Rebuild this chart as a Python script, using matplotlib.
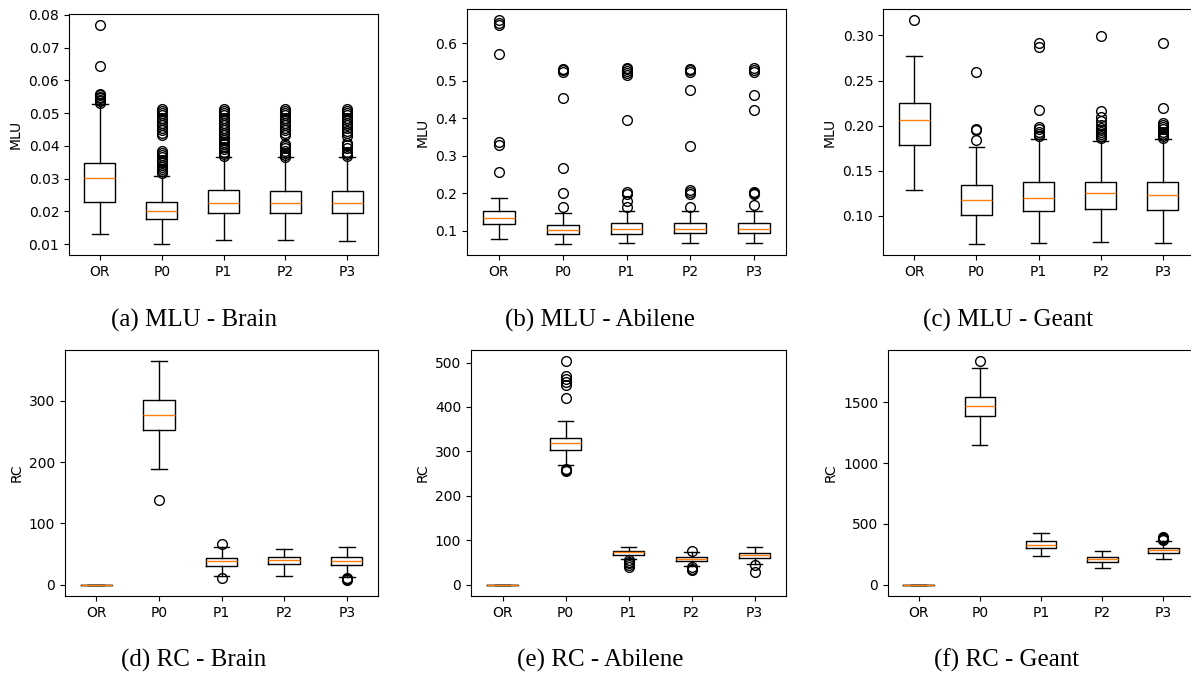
import matplotlib
matplotlib.use("Agg")
import matplotlib.pyplot as plt

ANCHO, ALTO = 1191, 673

ETIQUETAS = ["OR", "P0", "P1", "P2", "P3"]

# cada fila: [whislo, q1, mediana, q3, whishi] para OR, P0..P3
MLU_BRAIN = [
    [0.0131, 0.0227, 0.0301, 0.0348, 0.0527],
    [0.0100, 0.0175, 0.0200, 0.0229, 0.0307],
    [0.0112, 0.0195, 0.0225, 0.0265, 0.0365],
    [0.0112, 0.0195, 0.0224, 0.0262, 0.0365],
    [0.0110, 0.0195, 0.0225, 0.0262, 0.0365],
]
MLU_BRAIN_OUT = [
    [0.0532, 0.0536, 0.0540, 0.0545, 0.0550, 0.0554, 0.0558, 0.0645, 0.0769],
    [0.0316, 0.0322, 0.0328, 0.0335, 0.0342, 0.0350, 0.0358, 0.0366, 0.0372, 0.0378, 0.0384,
     0.0434, 0.0440, 0.0447, 0.0455, 0.0462, 0.0470, 0.0478, 0.0486, 0.0494, 0.0501, 0.0507, 0.0513],
    [0.0370, 0.0375, 0.0382, 0.0390, 0.0397, 0.0404, 0.0411, 0.0418, 0.0425, 0.0432, 0.0440,
     0.0447, 0.0455, 0.0462, 0.0470, 0.0478, 0.0486, 0.0494, 0.0501, 0.0507, 0.0513],
    [0.0366, 0.0372, 0.0378, 0.0385, 0.0392, 0.0399, 0.0406, 0.0433, 0.0440, 0.0447, 0.0455,
     0.0462, 0.0470, 0.0478, 0.0486, 0.0494, 0.0501, 0.0507, 0.0513],
    [0.0368, 0.0374, 0.0380, 0.0392, 0.0402, 0.0410, 0.0430, 0.0438, 0.0446, 0.0455, 0.0462,
     0.0470, 0.0478, 0.0486, 0.0494, 0.0501, 0.0507, 0.0513],
]

MLU_ABILENE = [
    [0.0777, 0.118, 0.134, 0.152, 0.1875],
    [0.065, 0.090, 0.101, 0.116, 0.147],
    [0.067, 0.092, 0.104, 0.120, 0.152],
    [0.067, 0.093, 0.105, 0.120, 0.153],
    [0.067, 0.093, 0.105, 0.120, 0.153],
]
MLU_ABILENE_OUT = [
    [0.257, 0.329, 0.336, 0.572, 0.650, 0.655, 0.662],
    [0.163, 0.201, 0.268, 0.455, 0.525, 0.528, 0.532],
    [0.163, 0.178, 0.198, 0.202, 0.395, 0.516, 0.522, 0.527, 0.532, 0.535],
    [0.164, 0.198, 0.203, 0.208, 0.327, 0.476, 0.525, 0.530, 0.533],
    [0.168, 0.198, 0.201, 0.204, 0.422, 0.463, 0.525, 0.530, 0.535],
]

MLU_GEANT = [
    [0.1286, 0.1787, 0.2061, 0.2250, 0.2777],
    [0.0688, 0.1010, 0.1178, 0.1338, 0.1764],
    [0.0696, 0.1052, 0.1197, 0.1370, 0.1846],
    [0.0707, 0.1078, 0.1249, 0.1378, 0.1824],
    [0.0696, 0.1063, 0.1226, 0.1378, 0.1846],
]
MLU_GEANT_OUT = [
    [0.317],
    [0.1839, 0.1950, 0.1965, 0.2590],
    [0.1880, 0.1905, 0.1930, 0.1960, 0.1985, 0.2169, 0.2874, 0.2918],
    [0.1860, 0.1885, 0.1910, 0.1930, 0.1950, 0.1975, 0.2010, 0.2050, 0.2090, 0.2165, 0.2990],
    [0.1860, 0.1880, 0.1905, 0.1930, 0.1960, 0.1990, 0.2010, 0.2030, 0.2198, 0.2915],
]

RC_BRAIN = [
    [0, 0, 0, 0, 0],
    [188.4, 252.6, 277.0, 301.0, 364.2],
    [14.7, 31.0, 38.7, 43.6, 61.5],
    [14.7, 33.2, 39.7, 45.2, 58.8],
    [13.1, 31.6, 38.7, 45.2, 61.0],
]
RC_BRAIN_OUT = [
    [],
    [138.3],
    [10.9, 65.9],
    [],
    [8.2, 9.8, 10.9],
]

RC_ABILENE = [
    [0, 0, 0, 0, 0],
    [268.8, 304, 319, 331, 367.9],
    [57.8, 67.6, 72.8, 75.8, 84.8],
    [42.8, 53.3, 57.8, 62.3, 73.6],
    [46.5, 60, 66, 71.3, 84],
]
RC_ABILENE_OUT = [
    [],
    [256, 258, 261, 420, 450, 456, 462, 470, 503],
    [41, 45, 48, 52, 55],
    [33, 36, 39, 77],
    [28, 44],
]

RC_GEANT = [
    [0, 0, 0, 0, 0],
    [1150, 1384, 1472, 1541, 1778],
    [237, 300, 327, 360, 427],
    [138, 187, 209, 228, 275],
    [215, 261, 283, 305, 363],
]
RC_GEANT_OUT = [
    [],
    [1838],
    [],
    [],
    [370, 378, 385, 392],
]

TITULOS = ["(a) MLU - Brain", "(b) MLU - Abilene", "(c) MLU - Geant",
           "(d) RC - Brain", "(e) RC - Abilene", "(f) RC - Geant"]


def ArmarStats(filas, atipicos):
    stats = []
    for fila, fl in zip(filas, atipicos):
        stats.append({
            "whislo": fila[0], "q1": fila[1], "med": fila[2],
            "q3": fila[3], "whishi": fila[4], "fliers": fl,
        })
    return stats


def Px(izq, arriba, der, abajo):
    # convierte pixeles de la imagen a fracciones de figura
    return [izq / ANCHO, 1 - abajo / ALTO, (der - izq) / ANCHO, (abajo - arriba) / ALTO]


def DibujarPanel(fig, caja, filas, atipicos, etiquetaY, titulo, centroX, tituloY):
    ax = fig.add_axes(Px(*caja))
    ax.bxp(ArmarStats(filas, atipicos), showfliers=True,
           flierprops=dict(marker="o", markerfacecolor="none", markeredgecolor="black",
                           markersize=7))
    ax.set_xticks(range(1, 6))
    ax.set_xticklabels(ETIQUETAS)
    ax.set_ylabel(etiquetaY, fontsize=10)
    ax.tick_params(labelsize=10)
    fig.text(centroX / ANCHO, 1 - tituloY / ALTO, titulo, ha="center", va="center",
             fontsize=18, family="Liberation Serif")
    return ax


fig = plt.figure(figsize=(ANCHO / 100, ALTO / 100), dpi=100)

DibujarPanel(fig, (69, 14, 378, 255), MLU_BRAIN, MLU_BRAIN_OUT, "MLU", TITULOS[0], 194, 320)
DibujarPanel(fig, (467, 9, 786, 255), MLU_ABILENE, MLU_ABILENE_OUT, "MLU", TITULOS[1], 600, 320)
DibujarPanel(fig, (883, 9, 1194, 255), MLU_GEANT, MLU_GEANT_OUT, "MLU", TITULOS[2], 1008, 320)
DibujarPanel(fig, (65, 350, 378, 596), RC_BRAIN, RC_BRAIN_OUT, "RC", TITULOS[3], 194, 660)
DibujarPanel(fig, (471, 350, 786, 596), RC_ABILENE, RC_ABILENE_OUT, "RC", TITULOS[4], 600, 660)
DibujarPanel(fig, (888, 350, 1194, 596), RC_GEANT, RC_GEANT_OUT, "RC", TITULOS[5], 1007, 660)

fig.savefig("out.png", dpi=100)
